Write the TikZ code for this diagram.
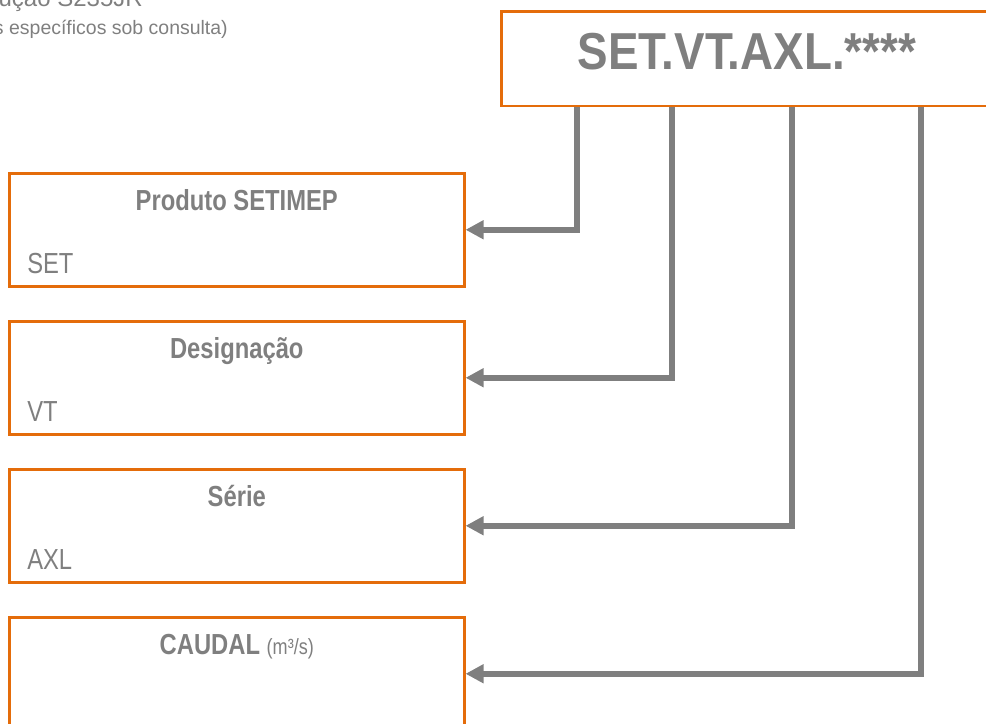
\documentclass[tikz,border=0pt]{standalone}
\usepackage{fontspec}
\setmainfont{Liberation Sans}[FakeStretch=0.82]
\newfontfamily\plainfont{Liberation Sans}
\newfontfamily\codefont{Liberation Sans}[FakeStretch=0.88]
\usetikzlibrary{arrows.meta, calc, positioning}
\definecolor{setorange}{HTML}{E46C0A}
\definecolor{setgrey}{HTML}{7F7F7F}

\begin{document}
\begin{tikzpicture}[x=0.75pt, y=-0.75pt, >={Triangle[length=13.5pt,width=13.5pt]}, node distance=24.35pt]
\tikzstyle{code box}=[draw=setorange, line width=1.9pt, rectangle, inner sep=0pt, anchor=north west]
\tikzstyle{field box}=[code box, minimum width=341.25pt, minimum height=84.75pt]
\tikzstyle{field title}=[text=setgrey, font=\fontsize{21.75}{26}\selectfont\bfseries, inner sep=0pt, anchor=base]
\tikzstyle{field value}=[text=setgrey, font=\fontsize{21.75}{26}\selectfont, inner sep=0pt, anchor=base west]
\tikzstyle{header}=[text=setgrey, inner sep=0pt, anchor=base east]
\tikzstyle{link}=[draw=setgrey, line width=4.5pt, ->]

\useasboundingbox (0,0) rectangle (986,724);

% header, cut off at the page edge
\node[header, font=\plainfont\fontsize{18}{20}\selectfont] (steel) at (143,7) {Construção S235JR};
\node[header, font=\plainfont\fontsize{14.6}{16}\selectfont] (note) at (228,35) {(Outros materiais específicos sob consulta)};

% code
\node[code box, minimum width=378pt, minimum height=71pt] (code) at (500,10) {};
\node[text=setgrey, font=\codefont\fontsize{39}{44}\selectfont\bfseries, inner sep=0pt, anchor=base] (codetext) at ($(code.north west)+(247,60)$) {SET.VT.AXL.****};

% fields
\node[field box] (produto) at (8,172) {};
\node[field box, below=of produto] (designacao) {};
\node[field box, below=of designacao] (serie) {};
\node[field box, below=of serie] (caudal) {};

\node[field title] (produtotitle) at ($(produto.north)+(0,38.7)$) {Produto SETIMEP};
\node[field title] (designacaotitle) at ($(designacao.north)+(0,38.7)$) {Designação};
\node[field title] (serietitle) at ($(serie.north)+(0,38.7)$) {Série};
\node[field title] (caudaltitle) at ($(caudal.north)+(0,38.7)$) {CAUDAL {\mdseries\fontsize{16.5}{20}\selectfont (m³/s)}};

\node[field value] (produtovalue) at ($(produto.north west)+(19,101)$) {SET};
\node[field value] (designacaovalue) at ($(designacao.north west)+(19,101)$) {VT};
\node[field value] (serievalue) at ($(serie.north west)+(19,101)$) {AXL};

% links
\coordinate (tap1) at ($(code.south west)+(77,0)$);
\coordinate (tap2) at ($(code.south west)+(172,0)$);
\coordinate (tap3) at ($(code.south west)+(292,0)$);
\coordinate (tap4) at ($(code.south west)+(421,0)$);
\draw[link] (tap1) |- (produto.east);
\draw[link] (tap2) |- (designacao.east);
\draw[link] (tap3) |- (serie.east);
\draw[link] (tap4) |- (caudal.east);
\end{tikzpicture}
\end{document}
